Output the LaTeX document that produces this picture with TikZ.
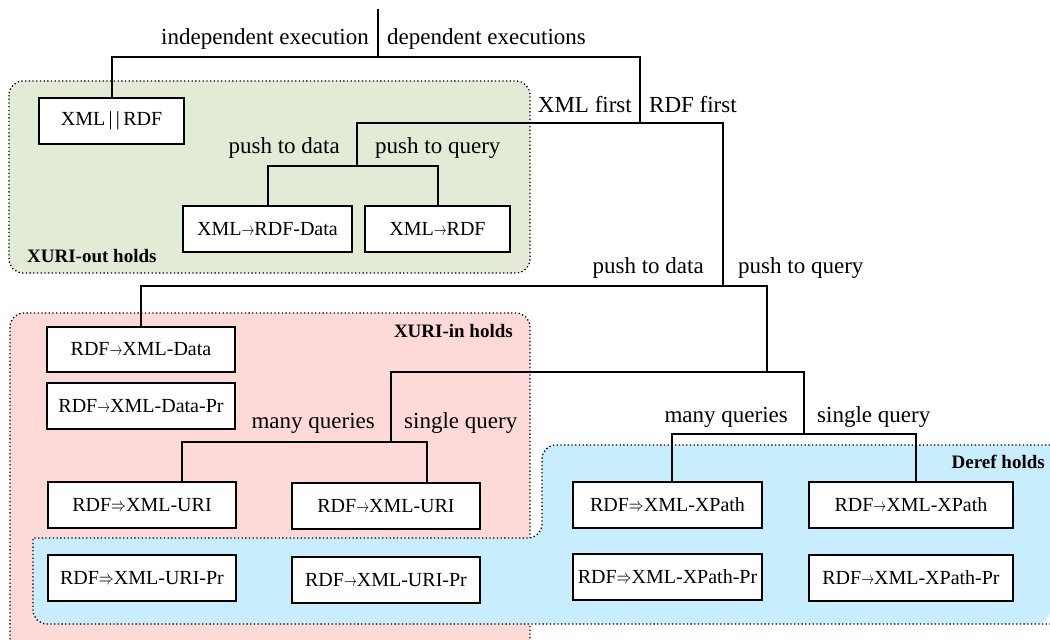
\documentclass[tikz,border=0pt]{standalone}
\usepackage{fontspec}
\setmainfont{Liberation Serif}
\usepackage{graphicx}
\definecolor{greenfill}{RGB}{225,235,214}
\definecolor{pinkfill}{RGB}{253,217,216}
\definecolor{bluefill}{RGB}{200,237,252}
\newcommand{\myra}{\scalebox{0.62}[0.9]{$\rightarrow$}}
\newcommand{\myRa}{\scalebox{0.72}[0.95]{$\Rightarrow$}}
\pgfdeclarelayer{regionlayer}
\pgfdeclarelayer{connlayer}
\pgfsetlayers{regionlayer,connlayer,main}
\begin{document}
\begin{tikzpicture}[x=1pt,y=-1pt,
  box/.style={draw, line width=2.6pt, fill=white, inner sep=0pt, outer sep=0pt, font=\fontsize{20}{24}\selectfont},
  conn/.style={line width=2pt},
  lab/.style={inner sep=0pt, font=\fontsize{23}{27}\selectfont},
  reg/.style={line width=1.3pt, dash pattern=on 1.3pt off 2.4pt},
  rlab/.style={inner sep=0pt, font=\fontsize{19}{23}\selectfont\bfseries}]
\useasboundingbox (0,0) rectangle (1050,640);
% regions
\begin{pgfonlayer}{regionlayer}
\clip (0,0) rectangle (1050,640);
\draw[reg, fill=greenfill, rounded corners=14pt] (9,81) rectangle (530,273);
\draw[reg, fill=pinkfill, rounded corners=14pt] (10,680) -- (10,313) -- (530,313) -- (530,680);
\fill[bluefill, rounded corners=14pt] (1050,445) -- (542,445) -- (542,538) [sharp corners] -- (33,538) [rounded corners=14pt] -- (33,624) -- (1050,624) [sharp corners] -- cycle;
\draw[reg] (1050,445) [rounded corners=14pt] -- (542,445) -- (542,538) [sharp corners] -- (33,538) [rounded corners=14pt] -- (33,624) -- (1050,624);
\end{pgfonlayer}
% junctions
\coordinate (c0) at (378,9);
\coordinate (c1) at (378,57);
\coordinate (c2) at (640,123);
\coordinate (c3) at (723,286);
\coordinate (c4) at (357,166);
\coordinate (c5) at (767,372);
\coordinate (c6) at (391,442);
\coordinate (c7) at (804,434);
\coordinate (d1) at (182,442);
\coordinate (d2) at (427,442);
\coordinate (d3) at (672,434);
\coordinate (d4) at (916,434);
% boxes
\path
  (111.5,121) node[box, minimum width=145, minimum height=46] (xpar) {XML\,|\,|\,RDF}
  (267.5,229) node[box, minimum width=169, minimum height=46] (xrd) {XML\myra RDF-Data}
  (437.5,229) node[box, minimum width=145, minimum height=46] (xr) {XML\myra RDF}
  (141,349.5) node[box, minimum width=188, minimum height=45] (rxd) {RDF\myra XML-Data}
  (141,406) node[box, minimum width=188, minimum height=46] (rxdp) {RDF\myra XML-Data-Pr}
  (142,505) node[box, minimum width=188, minimum height=46] (rmu) {RDF\myRa XML-URI}
  (386,506) node[box, minimum width=188, minimum height=46] (rsu) {RDF\myra XML-URI}
  (142,578) node[box, minimum width=188, minimum height=46] (rmup) {RDF\myRa XML-URI-Pr}
  (386,580) node[box, minimum width=188, minimum height=46] (rsup) {RDF\myra XML-URI-Pr}
  (667.5,505) node[box, minimum width=189, minimum height=46] (rmx) {RDF\myRa XML-XPath}
  (911,505) node[box, minimum width=204, minimum height=46] (rsx) {RDF\myra XML-XPath}
  (667.5,577) node[box, minimum width=189, minimum height=46] (rmxp) {RDF\myRa XML-XPath-Pr}
  (911,578) node[box, minimum width=204, minimum height=46] (rsxp) {RDF\myra XML-XPath-Pr};
% connectors
\begin{pgfonlayer}{connlayer}
\draw[conn] (c0) -- (c1);
\draw[conn] (xpar.north) |- (c1) -| (c2);
\draw[conn] (c4) |- (c2) -| (c3);
\draw[conn] (xrd.north) |- (c4) -| (xr.north);
\draw[conn] (rxd.north) |- (c3) -| (c5);
\draw[conn] (c6) |- (c5) -| (c7);
\draw[conn] (d1 |- rmu.north) -- (d1) -- (c6) -- (d2) -- (d2 |- rsu.north);
\draw[conn] (d3 |- rmx.north) -- (d3) -- (c7) -- (d4) -- (d4 |- rsx.north);
\end{pgfonlayer}
% labels
\node[lab, anchor=base east] (lind) at (369,44) {independent execution};
\node[lab, anchor=base west] (ldep) at (387,44) {dependent executions};
\node[lab, anchor=base east] (lxf) at (632,112) {XML first};
\node[lab, anchor=base west] (lrf) at (649,112) {RDF first};
\node[lab, anchor=base east] (lpd1) at (340,153) {push to data};
\node[lab, anchor=base west] (lpq1) at (375,153) {push to query};
\node[lab, anchor=base east] (lpd2) at (704,273) {push to data};
\node[lab, anchor=base west] (lpq2) at (738,273) {push to query};
\node[lab, anchor=base east] (lmq1) at (375,428) {many queries};
\node[lab, anchor=base west] (lsq1) at (404,428) {single query};
\node[lab, anchor=base east] (lmq2) at (788,422) {many queries};
\node[lab, anchor=base west] (lsq2) at (817,422) {single query};
\node[rlab, anchor=base west] (rout) at (27,262) {XURI-out holds};
\node[rlab, anchor=base east] (rin) at (513,337) {XURI-in holds};
\node[rlab, anchor=base east] (rderef) at (1045,468) {Deref holds};
\end{tikzpicture}
\end{document}
